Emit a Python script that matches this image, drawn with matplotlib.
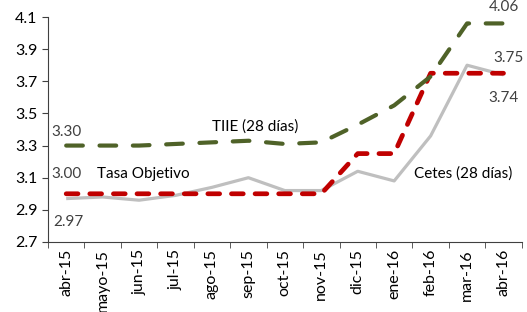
import matplotlib.pyplot as plt
import numpy as np

plt.rcParams['font.family'] = ['Lato', 'DejaVu Sans']

# data
meses = ['abr-15', 'mayo-15', 'jun-15', 'jul-15', 'ago-15', 'sep-15', 'oct-15',
         'nov-15', 'dic-15', 'ene-16', 'feb-16', 'mar-16', 'abr-16']
tiie = [3.30, 3.30, 3.30, 3.31, 3.32, 3.33, 3.31, 3.32, 3.43, 3.55, 3.73, 4.06, 4.06]
tasa_objetivo = [3.00, 3.00, 3.00, 3.00, 3.00, 3.00, 3.00, 3.00, 3.25, 3.25, 3.75, 3.75, 3.75]
cetes = [2.97, 2.98, 2.96, 2.99, 3.04, 3.10, 3.02, 3.02, 3.14, 3.08, 3.36, 3.80, 3.74]

x = np.arange(len(meses))

fig = plt.figure(figsize=(5.27, 3.12), dpi=100)
ax = fig.add_axes([0.091, 0.2244, 0.899, 0.7211])

ax.plot(x, cetes, color='#BFBFBF', lw=2.3, solid_capstyle='butt', zorder=2)
ax.plot(x, tasa_objetivo, color='#C00000', lw=3.4, dashes=(2.5, 2.5),
        dash_capstyle='round', zorder=3)
ax.plot(x, tiie, color='#4F6228', lw=3.0, dashes=(4.0, 4.0),
        dash_capstyle='round', zorder=3)

ax.set_xlim(-0.5, len(meses) - 0.5)
ax.set_ylim(2.7, 4.1)
ax.set_yticks(np.arange(2.7, 4.11, 0.2))
ax.set_yticklabels([f'{v:.1f}' for v in np.arange(2.7, 4.11, 0.2)])
ax.set_xticks(x)
ax.set_xticklabels(meses, rotation=90)
ax.set_xticks(np.arange(-0.5, len(meses), 1), minor=True)
ax.tick_params(axis='x', which='major', length=0, pad=5)
ax.tick_params(axis='x', which='minor', length=4, direction='out', color='#404040')
ax.tick_params(axis='y', length=4, direction='out', color='#404040')
ax.tick_params(labelsize=11.5, labelcolor='black')
for s in ['top', 'right']:
    ax.spines[s].set_visible(False)
for s in ['left', 'bottom']:
    ax.spines[s].set_color('#404040')

num = '#404040'
fs = 11
ax.text(0, 3.385, '3.30', color=num, fontsize=fs, ha='center', va='center')
ax.text(0, 3.125, '3.00', color=num, fontsize=fs, ha='center', va='center')
ax.text(0.05, 2.825, '2.97', color=num, fontsize=fs, ha='center', va='center')
ax.text(0.85, 3.125, 'Tasa Objetivo', color='black', fontsize=fs, ha='left', va='center')
ax.text(4.0, 3.42, 'TIIE (28 días)', color='black', fontsize=fs, ha='left', va='center')
ax.text(9.55, 3.125, 'Cetes (28 días)', color='black', fontsize=fs, ha='left', va='center')
ax.text(12.0, 4.165, '4.06', color=num, fontsize=fs, ha='center', va='center')
ax.text(12.15, 3.845, '3.75', color=num, fontsize=fs, ha='center', va='center')
ax.text(12.0, 3.595, '3.74', color=num, fontsize=fs, ha='center', va='center')

fig.savefig('out.png', dpi=100)
